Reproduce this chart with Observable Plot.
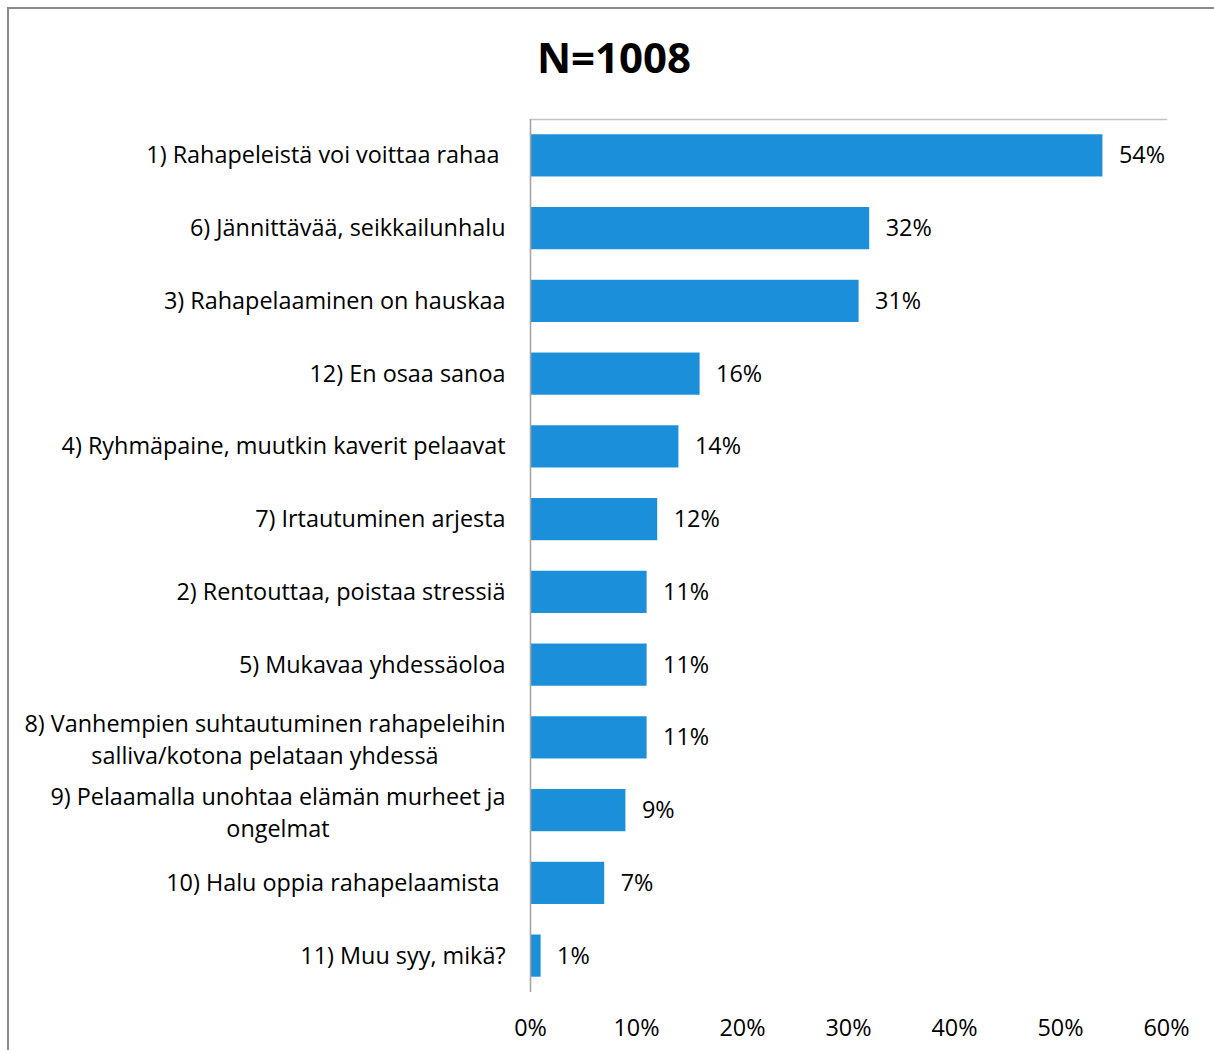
<!DOCTYPE html>
<html>
<head>
<meta charset="utf-8">
<script src="https://cdn.jsdelivr.net/npm/d3@7"></script>
<script src="https://cdn.jsdelivr.net/npm/@observablehq/plot@0.6"></script>
<style>
  html, body { margin: 0; padding: 0; background: #fff; }
  #wrap { position: relative; width: 1214px; height: 1050px; overflow: hidden; font-family: "Open Sans", sans-serif; }
  #frame { position: absolute; left: 7px; top: 7px; width: 1260px; height: 1100px; border: 2px solid #8c8c8c; box-sizing: border-box; }
  #title { position: absolute; left: 0; top: 36px; width: 1228px; text-align: center; font-size: 42px; line-height: 42px; font-weight: 700; color: #000; }
  #chart { position: absolute; left: 0; top: 0; }
  #chart svg text { white-space: pre; }
</style>
</head>
<body>
<div id="wrap">
  <div id="frame"></div>
  <div id="title">N=1008</div>
  <div id="chart"></div>
</div>
<script>
const categories = [
  "1) Rahapeleistä voi voittaa rahaa ",
  "6) Jännittävää, seikkailunhalu",
  "3) Rahapelaaminen on hauskaa",
  "12) En osaa sanoa",
  "4) Ryhmäpaine, muutkin kaverit pelaavat",
  "7) Irtautuminen arjesta",
  "2) Rentouttaa, poistaa stressiä",
  "5) Mukavaa yhdessäoloa",
  "8) Vanhempien suhtautuminen rahapeleihin\nsalliva/kotona pelataan yhdessä",
  "9) Pelaamalla unohtaa elämän murheet ja\nongelmat",
  "10) Halu oppia rahapelaamista ",
  "11) Muu syy, mikä?"
];
const values = [54, 32, 31, 16, 14, 12, 11, 11, 11, 9, 7, 1];
const xTicks = [0, 10, 20, 30, 40, 50, 60];

const data = categories.map((c, i) => ({cat: c, value: values[i]}));

const FS = 23.4;
const canvas = document.createElement("canvas");
const ctx = canvas.getContext("2d");
ctx.font = FS + "px 'Open Sans'";
const measure = s => ctx.measureText(s).width;

const single = data.filter(d => !d.cat.includes("\n"));
const multi = data.filter(d => d.cat.includes("\n"));

const multiMarks = multi.map(d => {
  const w = Math.max(...d.cat.split("\n").map(measure));
  return Plot.text([d], {
    x: () => 0, y: "cat", text: "cat",
    textAnchor: "middle", lineAnchor: "middle", lineHeight: 32 / FS,
    dx: -25 - w / 2, fontSize: FS, fill: "#000"
  });
});

const chart = Plot.plot({
  width: 1214,
  height: 1050,
  marginTop: 119,
  marginBottom: 58,
  marginLeft: 530,
  marginRight: 48,
  style: { fontFamily: "Open Sans, sans-serif", fontSize: FS + "px", color: "#000", background: "transparent" },
  x: { domain: [0, 60], ticks: xTicks, tickFormat: d => d + "%", tickSize: 0, tickPadding: 27, label: null },
  y: { domain: categories, paddingInner: 0.42, paddingOuter: 0.21, round: false, axis: null },
  marks: [
    Plot.frame({ anchor: "top", stroke: "#c3c3c3", strokeWidth: 1.5 }),
    Plot.barX(data, { x: "value", y: "cat", fill: "#1b8fd9" }),
    Plot.ruleX([0], { stroke: "#a6a6a6", strokeWidth: 1.6 }),
    Plot.text(data, { x: "value", y: "cat", text: d => d.value + "%", textAnchor: "start", dx: 16, fontSize: FS, fill: "#000" }),
    Plot.text(single, { x: () => 0, y: "cat", text: "cat", textAnchor: "end", dx: -25, fontSize: FS, fill: "#000" }),
    ...multiMarks
  ]
});
document.getElementById("chart").appendChild(chart);
</script>
</body>
</html>
